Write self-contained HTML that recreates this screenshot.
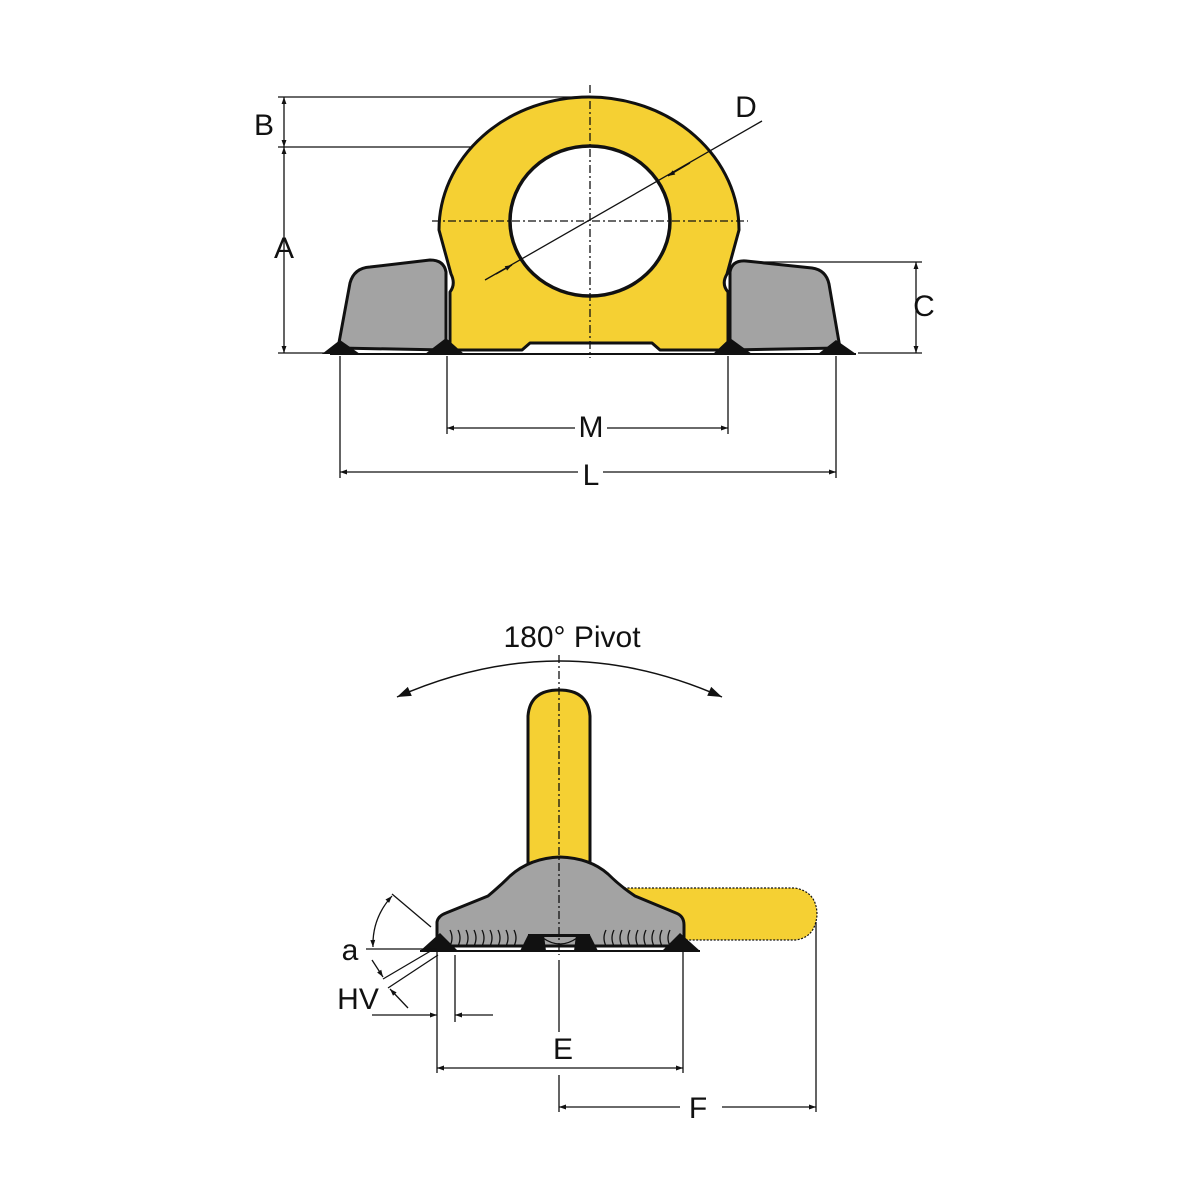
<!DOCTYPE html>
<html><head><style>html,body{margin:0;padding:0;background:#fff}svg{display:block}text{font-family:"Liberation Sans",sans-serif;font-size:30px;fill:#111}</style></head>
<body>
<svg width="1200" height="1200" viewBox="0 0 1200 1200" xmlns="http://www.w3.org/2000/svg">
<defs>
<marker id="ar" viewBox="0 0 10 10" refX="10" refY="5" markerWidth="9" markerHeight="7" orient="auto-start-reverse" markerUnits="userSpaceOnUse"><path d="M0,1.5 L10,5 L0,8.5 Z" fill="#111"/></marker>
<marker id="ar2" viewBox="0 0 10 10" refX="10" refY="5" markerWidth="22" markerHeight="14" orient="auto-start-reverse" markerUnits="userSpaceOnUse"><path d="M0,1.5 L10,5 L0,8.5 Z" fill="#111"/></marker>
</defs>
<!-- TOP VIEW -->
<g stroke="#111" stroke-width="1.3" fill="none">
<line x1="278" y1="97" x2="585" y2="97"/>
<line x1="278" y1="147" x2="585" y2="147"/>
<line x1="278" y1="353" x2="330" y2="353"/>
<line x1="284" y1="97" x2="284" y2="147" marker-start="url(#ar)" marker-end="url(#ar)"/>
<line x1="284" y1="147" x2="284" y2="353" marker-start="url(#ar)" marker-end="url(#ar)"/>
<line x1="760" y1="262" x2="922" y2="262"/>
<line x1="858" y1="353" x2="922" y2="353"/>
<line x1="916" y1="262" x2="916" y2="353" marker-start="url(#ar)" marker-end="url(#ar)"/>
<line x1="447" y1="356" x2="447" y2="434"/>
<line x1="728" y1="356" x2="728" y2="434"/>
<line x1="447" y1="428" x2="575" y2="428" marker-start="url(#ar)"/>
<line x1="607" y1="428" x2="728" y2="428" marker-end="url(#ar)"/>
<line x1="340" y1="356" x2="340" y2="478"/>
<line x1="836" y1="356" x2="836" y2="478"/>
<line x1="340" y1="472" x2="578" y2="472" marker-start="url(#ar)"/>
<line x1="603" y1="472" x2="836" y2="472" marker-end="url(#ar)"/>
</g>
<!-- gray blocks -->
<g fill="#a3a3a3" stroke="#111" stroke-width="3" stroke-linejoin="round">
<path d="M338,348 L350,283 Q354,268 370,267 L430,260 Q444,260 446,272 L446,350 Z"/>
<path d="M730,350 L730,272 Q732,260 746,261 L812,268 Q826,270 829,284 L840,348 Z"/>
</g>
<!-- yellow eye -->
<path d="M450,350 L450,292 Q456,284 451,274 L439,230 A150,133 0 0 1 739,230 L727,274 Q721,284 728,292 L728,350 L660,350 L652,343 L530,343 L522,350 Z" fill="#f5d033" stroke="#111" stroke-width="3" stroke-linejoin="round"/>
<ellipse cx="590" cy="221" rx="80" ry="75" fill="#fff" stroke="#111" stroke-width="3.5"/>
<!-- welds -->
<g fill="#111">
<path d="M322,354 L340,340 L360,354 Z"/>
<path d="M425,354 L446,338 L464,354 Z"/>
<path d="M713,354 L730,338 L752,354 Z"/>
<path d="M818,354 L836,340 L856,354 Z"/>
</g>
<line x1="330" y1="354" x2="856" y2="354" stroke="#111" stroke-width="2"/>
<!-- center lines -->
<g stroke="#111" stroke-width="1.3" stroke-dasharray="8,3,2,3" fill="none">
<line x1="590" y1="85" x2="590" y2="358"/>
<line x1="432" y1="221" x2="748" y2="221"/>
</g>
<line x1="485" y1="280" x2="762" y2="121" stroke="#111" stroke-width="1.3"/>
<line x1="496" y1="274" x2="512" y2="265" stroke="#111" stroke-width="1.3" marker-end="url(#ar)"/>
<line x1="690" y1="163" x2="668" y2="176" stroke="#111" stroke-width="1.3" marker-end="url(#ar)"/>
<text x="264" y="135" text-anchor="middle">B</text>
<text x="284" y="258" text-anchor="middle">A</text>
<text x="746" y="117" text-anchor="middle">D</text>
<text x="924" y="316" text-anchor="middle">C</text>
<text x="591" y="437" text-anchor="middle">M</text>
<text x="591" y="485" text-anchor="middle">L</text>

<!-- BOTTOM VIEW -->
<text x="572" y="647" text-anchor="middle">180° Pivot</text>
<path d="M397,697 Q560,625 722,697" fill="none" stroke="#111" stroke-width="1.5" marker-start="url(#ar2)" marker-end="url(#ar2)"/>
<path d="M610,888 L795,888 Q817,892 817,915 Q815,938 795,940 L670,940 Z" fill="#f5d033" stroke="#111" stroke-width="1.2" stroke-dasharray="2,1.5"/>
<path d="M528,870 L528,716 Q530,690 559,690 Q588,690 590,716 L590,870 Z" fill="#f5d033" stroke="#111" stroke-width="3"/>
<path d="M437,925 L437,922 Q438,916 446,913 L488,896 Q500,886 510,876 Q530,858 560,857 Q590,858 608,874 Q620,886 635,896 L676,913 Q684,916 684,925 L684,946 L437,946 Z" fill="#a3a3a3" stroke="#111" stroke-width="3" stroke-linejoin="round"/>
<g stroke="#111" stroke-width="1.3" fill="none">
<path d="M450,930 q4,8 0,16 M458,930 q4,8 0,16 M466,930 q4,8 0,16 M474,930 q4,8 0,16 M482,930 q4,8 0,16 M490,930 q4,8 0,16 M498,930 q4,8 0,16 M506,930 q4,8 0,16 M514,930 q4,8 0,16"/>
<path d="M606,930 q-4,8 0,16 M614,930 q-4,8 0,16 M622,930 q-4,8 0,16 M630,930 q-4,8 0,16 M638,930 q-4,8 0,16 M646,930 q-4,8 0,16 M654,930 q-4,8 0,16 M662,930 q-4,8 0,16 M670,930 q-4,8 0,16"/>
<path d="M543,938 Q560,950 577,938"/>
</g>
<g fill="#111">
<path d="M420,951 L440,933 L458,951 Z"/>
<path d="M662,951 L680,933 L700,951 Z"/>
<path d="M520,951 L528,935 L544,935 L546,951 Z"/>
<path d="M574,951 L576,935 L590,935 L598,951 Z"/>
<rect x="528" y="934" width="62" height="3"/>
</g>
<g stroke="#111" stroke-width="2"><line x1="420" y1="951" x2="700" y2="951"/></g>
<g stroke="#111" stroke-width="1.3" stroke-dasharray="8,3,2,3"><line x1="559" y1="655" x2="559" y2="955"/></g>
<g stroke="#111" stroke-width="1.3" fill="none">
<line x1="559" y1="960" x2="559" y2="1032"/>
<line x1="559" y1="1075" x2="559" y2="1112"/>
<line x1="437" y1="952" x2="437" y2="1073"/>
<line x1="683" y1="952" x2="683" y2="1073"/>
<line x1="455" y1="955" x2="455" y2="1022"/>
<line x1="816" y1="922" x2="816" y2="1112"/>
<line x1="437" y1="1068" x2="683" y2="1068" marker-start="url(#ar)" marker-end="url(#ar)"/>
<line x1="559" y1="1107" x2="680" y2="1107" marker-start="url(#ar)"/>
<line x1="722" y1="1107" x2="816" y2="1107" marker-end="url(#ar)"/>
<line x1="372" y1="1015" x2="437" y2="1015" marker-end="url(#ar)"/>
<line x1="493" y1="1015" x2="455" y2="1015" marker-end="url(#ar)"/>
<line x1="366" y1="949" x2="437" y2="949"/>
<line x1="392" y1="894" x2="431" y2="927"/>
<path d="M392,896 Q372,918 373,947" marker-start="url(#ar)" marker-end="url(#ar)"/>
<line x1="383" y1="979" x2="434" y2="949"/>
<line x1="388" y1="988" x2="438" y2="955"/>
<line x1="372" y1="960" x2="383" y2="977" marker-end="url(#ar)"/>
<line x1="408" y1="1008" x2="390" y2="989" marker-end="url(#ar)"/>
</g>
<text x="350" y="960" text-anchor="middle">a</text>
<text x="358" y="1009" text-anchor="middle">HV</text>
<text x="563" y="1059" text-anchor="middle">E</text>
<text x="698" y="1118" text-anchor="middle">F</text>
</svg>
</body></html>
